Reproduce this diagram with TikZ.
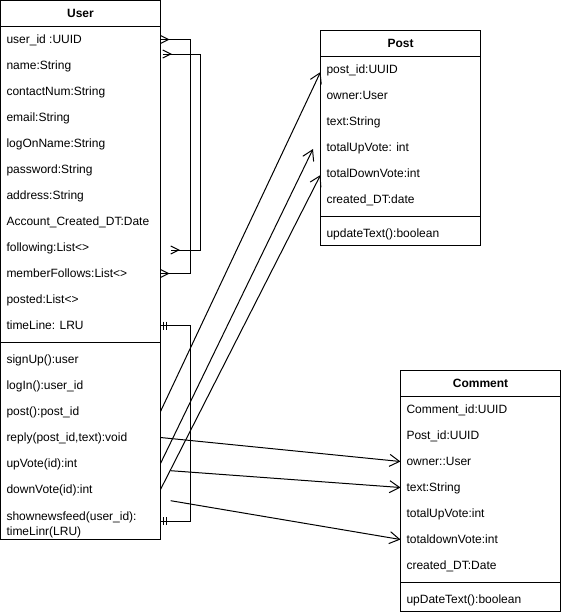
\documentclass[tikz,border=0pt]{standalone}
\usepackage{fontspec}
\setmainfont{Liberation Sans}
\usetikzlibrary{arrows.meta,calc}
\begin{document}
\begin{tikzpicture}[x=1pt,y=-1pt,
  every node/.style={font=\fontsize{12}{14.4}\selectfont, inner sep=0pt, outer sep=0pt},
  box/.style={draw, line width=1pt, anchor=north west, minimum width=160pt},
  title/.style={anchor=base, font=\fontsize{12}{14.4}\selectfont\bfseries},
  row/.style={anchor=west, text height=10.2pt, text depth=1.8pt},
  ln/.style={line width=1pt},
  arr/.style={line width=1pt, -{Straight Barb[length=10pt,width=12pt,line width=1pt]}},
]
\useasboundingbox (0,0) rectangle (561,616);

% ---------- User ----------
\node[box, minimum height=539pt] (user) at (0.5,0.5) {};
\node[title] (usert) at (80.5,17.7) {User};
\draw[ln] (0.5,26.5) -- (160.5,26.5);
\draw[ln] (0.5,342.5) -- (160.5,342.5);
\node[row] (uid) at (6.5,39.5) {user\_id :UUID};
\node[row] (uname) at (6.5,65.5) {name:String};
\node[row] (ucontact) at (6.5,91.5) {contactNum:String};
\node[row] (uemail) at (6.5,117.5) {email:String};
\node[row] (ulogon) at (6.5,143.5) {logOnName:String};
\node[row] (upwd) at (6.5,169.5) {password:String};
\node[row] (uaddr) at (6.5,195.5) {address:String};
\node[row] (uacdt) at (6.5,221.5) {Account\_Created\_DT:Date};
\node[row] (ufol) at (6.5,247.5) {following:List<>};
\node[row] (umf) at (6.5,273.5) {memberFollows:List<>};
\node[row] (uposted) at (6.5,299.5) {posted:List<>};
\node[row] (utl) at (6.5,325.5) {timeLine: LRU};
\node[row] (usignup) at (6.5,359.5) {signUp():user};
\node[row] (ulogin) at (6.5,385.5) {logIn():user\_id};
\node[row] (upostm) at (6.5,411.5) {post():post\_id};
\node[row] (ureply) at (6.5,437.5) {reply(post\_id,text):void};
\node[row] (uupv) at (6.5,463.5) {upVote(id):int};
\node[row] (udownv) at (6.5,489.5) {downVote(id):int};
\node[row] (usnf) at (6.5,516.3) {shownewsfeed(user\_id):};
\node[row] (usnf2) at (6.5,530.8) {timeLinr(LRU)};

% ---------- Post ----------
\node[box, minimum height=215pt] (post) at (320.5,30.5) {};
\node[title] (postt) at (400.5,47.7) {Post};
\draw[ln] (320.5,56.5) -- (480.5,56.5);
\draw[ln] (320.5,216.5) -- (480.5,216.5);
\node[row] (pid) at (326.5,69.5) {post\_id:UUID};
\node[row] (powner) at (326.5,95.5) {owner:User};
\node[row] (ptext) at (326.5,121.5) {text:String};
\node[row] (ptuv) at (326.5,147.5) {totalUpVote: int};
\node[row] (ptdv) at (326.5,173.5) {totalDownVote:int};
\node[row] (pcdt) at (326.5,199.5) {created\_DT:date};
\node[row] (pupd) at (326.5,233.5) {updateText():boolean};

% ---------- Comment ----------
\node[box, minimum height=241pt] (comment) at (400.5,370.5) {};
\node[title] (commentt) at (480.5,387.7) {Comment};
\draw[ln] (400.5,396.5) -- (560.5,396.5);
\draw[ln] (400.5,582.5) -- (560.5,582.5);
\node[row] (cid) at (406.5,409.5) {Comment\_id:UUID};
\node[row] (cpid) at (406.5,435.5) {Post\_id:UUID};
\node[row] (cowner) at (406.5,461.5) {owner::User};
\node[row] (ctext) at (406.5,487.5) {text:String};
\node[row] (ctuv) at (406.5,513.5) {totalUpVote:int};
\node[row] (ctdv) at (406.5,539.5) {totaldownVote:int};
\node[row] (ccdt) at (406.5,565.5) {created\_DT:Date};
\node[row] (cupd) at (406.5,599.5) {upDateText():boolean};

% ---------- self connectors on User ----------
\draw[ln] (user.east |- uid) -- ++(30,0) |- (user.east |- umf);
\draw[ln] ($(user.east |- uid)+(0,-4)$) -- ++(8,4) -- ++(-8,4);
\draw[ln] ($(user.east |- umf)+(0,-4)$) -- ++(8,4) -- ++(-8,4);

\coordinate (g1) at (162.7,54);
\coordinate (g2) at (170.7,250);
\draw[ln] (g1) -- ++(37.3,0) |- (g2);
\draw[ln] ($(g1)+(0,-4)$) -- ++(8,4) -- ++(-8,4);
\draw[ln] ($(g2)+(0,-4)$) -- ++(8,4) -- ++(-8,4);

\coordinate (snfR) at (160.5,521);
\draw[ln] (user.east |- utl) -- ++(30,0) |- (snfR);
\draw[ln] ($(user.east |- utl)+(2.5,-4)$) -- ++(0,8);
\draw[ln] ($(user.east |- utl)+(6,-4)$) -- ++(0,8);
\draw[ln] ($(snfR)+(2.5,-4)$) -- ++(0,8);
\draw[ln] ($(snfR)+(6,-4)$) -- ++(0,8);

% ---------- User -> Post ----------
\coordinate (p1) at (320.5,72);
\coordinate (p2) at (313,149);
\draw[arr] (user.east |- upostm) -- (p1);
\draw[arr] (user.east |- uupv) -- (p2);
\draw[arr] (user.east |- udownv) -- ($(post.west |- ptdv)+(0,1.5)$);

% ---------- User -> Comment ----------
\coordinate (s2) at (170.7,470.7);
\coordinate (s3) at (170.7,500.7);
\draw[arr] (user.east |- ureply) -- (comment.west |- cowner);
\draw[arr] (s2) -- (comment.west |- ctext);
\draw[arr] (s3) -- (comment.west |- ctdv);
\end{tikzpicture}
\end{document}
